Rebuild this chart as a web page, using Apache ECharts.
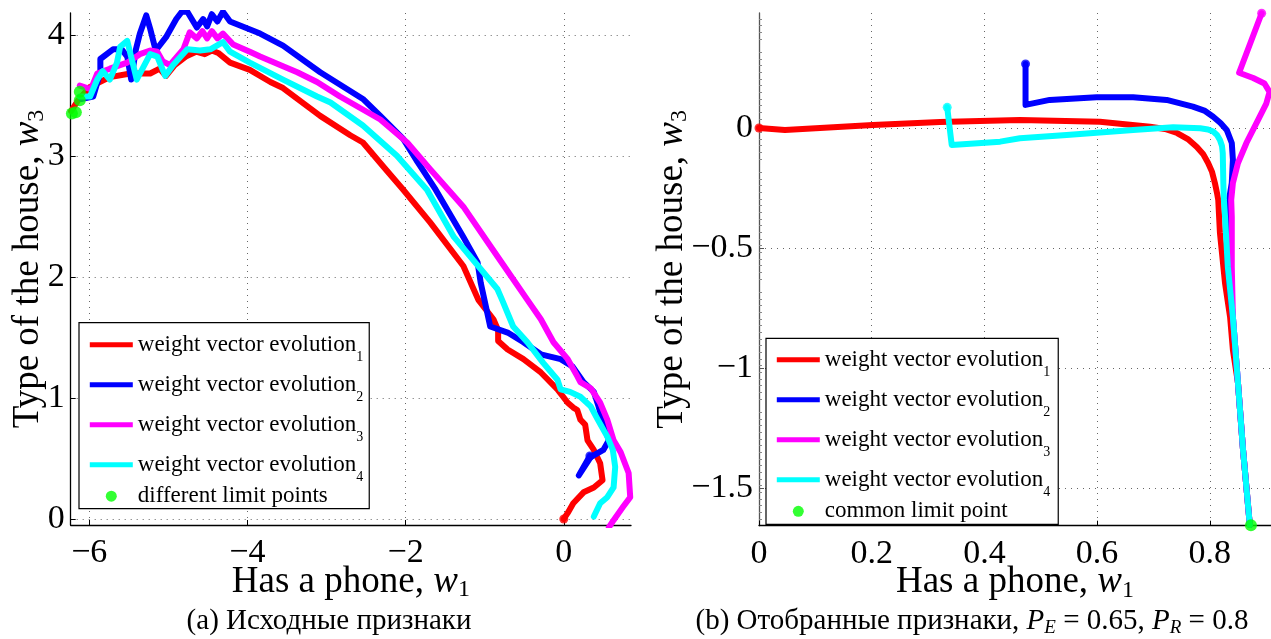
<!DOCTYPE html>
<html>
<head>
<meta charset="utf-8">
<script src="https://cdn.jsdelivr.net/npm/echarts@6/dist/echarts.min.js"></script>
<style>html,body{margin:0;padding:0;background:#fff}#chart{width:1271px;height:639px}</style>
</head>
<body>
<div id="chart"></div>
<script>
// ---------- DATA (left panel: original features) ----------
const leftXTicks = [-6, -4, -2, 0];
const leftYTicks = [0, 1, 2, 3, 4];
const leftRed = [[-6.23,3.37],[-6.14,3.46],[-5.99,3.57],[-5.74,3.65],[-5.48,3.68],[-5.23,3.68],[-5.11,3.72],[-5.03,3.66],[-4.92,3.75],[-4.78,3.82],[-4.65,3.86],[-4.54,3.84],[-4.45,3.87],[-4.37,3.85],[-4.22,3.77],[-3.97,3.71],[-3.71,3.61],[-3.55,3.56],[-3.08,3.33],[-2.70,3.17],[-2.54,3.11],[-2.28,2.91],[-2.03,2.72],[-1.69,2.45],[-1.27,2.09],[-1.08,1.81],[-0.89,1.65],[-0.83,1.56],[-0.83,1.47],[-0.71,1.40],[-0.51,1.32],[-0.29,1.21],[-0.08,1.07],[0.05,0.96],[0.12,0.92],[0.17,0.90],[0.21,0.82],[0.27,0.78],[0.30,0.65],[0.38,0.57],[0.46,0.46],[0.49,0.32],[0.38,0.26],[0.25,0.22],[0.12,0.13],[0.05,0.05],[0,0]];
const leftBlue = [[-6.10,3.47],[-5.95,3.49],[-5.86,3.69],[-5.86,3.80],[-5.70,3.88],[-5.59,3.88],[-5.52,3.82],[-5.47,3.63],[-5.41,3.88],[-5.36,4.01],[-5.28,4.16],[-5.23,4.05],[-5.16,3.87],[-5.03,3.98],[-4.90,4.13],[-4.83,4.19],[-4.76,4.19],[-4.64,4.06],[-4.56,4.13],[-4.51,4.07],[-4.45,4.17],[-4.38,4.11],[-4.31,4.19],[-4.22,4.11],[-3.84,4.01],[-3.55,3.91],[-3.08,3.69],[-2.54,3.47],[-2.32,3.33],[-2.03,3.14],[-1.85,2.95],[-1.62,2.72],[-1.27,2.33],[-1.09,2.12],[-1.05,1.95],[-0.97,1.71],[-0.93,1.59],[-0.71,1.54],[-0.51,1.46],[-0.29,1.36],[-0.04,1.32],[0.11,1.26],[0.25,1.13],[0.38,1.05],[0.44,0.93],[0.50,0.79],[0.57,0.65],[0.50,0.57],[0.34,0.51],[0.19,0.36],[0.33,0.52]];
const leftMagenta = [[-6.12,3.58],[-5.98,3.55],[-5.90,3.68],[-5.74,3.72],[-5.52,3.77],[-5.36,3.84],[-5.23,3.87],[-5.14,3.86],[-5.07,3.78],[-4.98,3.75],[-4.81,3.88],[-4.73,4.02],[-4.64,3.97],[-4.57,4.03],[-4.51,3.97],[-4.45,4.03],[-4.38,3.97],[-4.31,4.01],[-4.18,3.92],[-3.97,3.86],[-3.84,3.82],[-3.55,3.74],[-3.37,3.69],[-3.12,3.61],[-2.83,3.49],[-2.32,3.30],[-1.98,3.11],[-1.69,2.89],[-1.27,2.58],[-0.84,2.17],[-0.46,1.81],[-0.29,1.65],[-0.13,1.46],[0.05,1.32],[0.17,1.18],[0.21,1.13],[0.34,1.08],[0.46,0.96],[0.55,0.82],[0.63,0.65],[0.72,0.55],[0.82,0.38],[0.84,0.18],[0.75,0.10],[0.63,-0.01],[0.57,-0.07]];
const leftCyan = [[-6.12,3.49],[-5.99,3.49],[-5.90,3.63],[-5.83,3.70],[-5.74,3.63],[-5.65,3.77],[-5.61,3.90],[-5.52,3.95],[-5.40,3.63],[-5.23,3.84],[-5.14,3.82],[-5.04,3.66],[-4.94,3.75],[-4.76,3.88],[-4.60,3.87],[-4.47,3.88],[-4.31,3.94],[-4.22,3.86],[-3.97,3.77],[-3.55,3.63],[-3.12,3.49],[-2.95,3.44],[-2.54,3.25],[-2.11,3.00],[-1.73,2.72],[-1.39,2.33],[-0.84,1.90],[-0.78,1.81],[-0.64,1.59],[-0.46,1.46],[-0.26,1.29],[-0.08,1.15],[-0.04,1.07],[0.08,1.05],[0.21,1.01],[0.34,0.93],[0.43,0.82],[0.55,0.68],[0.62,0.57],[0.65,0.43],[0.63,0.26],[0.55,0.18],[0.46,0.13],[0.38,0.02]];
const leftLimitPoints = [[-6.22,3.35],[-6.17,3.36],[-6.12,3.46],[-6.12,3.53]];

// ---------- DATA (right panel: selected features) ----------
const rightXTicks = [0, 0.2, 0.4, 0.6, 0.8];
const rightYTicks = [-1.5, -1, -0.5, 0];
const rightRed = [[0,0],[0.046,-0.008],[0.202,0.0125],[0.321,0.025],[0.463,0.033],[0.605,0.026],[0.694,0.005],[0.7205,-0.004],[0.742,-0.021],[0.761,-0.046],[0.777,-0.079],[0.788,-0.108],[0.797,-0.146],[0.804,-0.183],[0.809,-0.229],[0.8128,-0.271],[0.815,-0.30],[0.818,-0.4375],[0.827,-0.646],[0.836,-0.7875],[0.841,-0.925],[0.850,-1.0625],[0.859,-1.342],[0.871,-1.654]];
const rightBlue = [[0.473,0.267],[0.473,0.096],[0.516,0.117],[0.599,0.128],[0.664,0.128],[0.7235,0.117],[0.770,0.089],[0.7915,0.071],[0.806,0.047],[0.819,0.021],[0.830,-0.008],[0.839,-0.0625],[0.841,-0.133],[0.839,-0.229],[0.832,-0.329],[0.832,-0.579],[0.841,-0.7875],[0.850,-1.0625],[0.859,-1.342],[0.871,-1.654]];
const rightMagenta = [[0.892,0.478],[0.852,0.230],[0.877,0.208],[0.897,0.185],[0.906,0.15],[0.900,0.10],[0.883,0.021],[0.865,-0.0625],[0.850,-0.146],[0.841,-0.229],[0.838,-0.30],[0.839,-0.371],[0.839,-0.579],[0.841,-0.7875],[0.850,-1.0625],[0.859,-1.342],[0.871,-1.654]];
const rightCyan = [[0.334,0.086],[0.342,-0.071],[0.428,-0.057],[0.463,-0.043],[0.546,-0.029],[0.664,-0.008],[0.735,0.003],[0.783,-0.001],[0.7968,-0.006],[0.806,-0.015],[0.8128,-0.029],[0.818,-0.05],[0.8216,-0.075],[0.823,-0.105],[0.824,-0.229],[0.825,-0.30],[0.827,-0.369],[0.832,-0.579],[0.841,-0.7875],[0.850,-1.0625],[0.859,-1.342],[0.871,-1.654]];
const rightLimitPoints = [[0.873,-1.655]];

const legendLabels = ['weight vector evolution', 'different limit points', 'common limit point'];
const xName = 'Has a phone, ';
const yName = 'Type of the house, ';
const captionA = '(a) Исходные признаки';
const captionB = '(b) Отобранные признаки, ';

// ---------- STYLE ----------
const FONT = 'Liberation Serif';
const COLORS = ['#ff0000', '#0000ff', '#ff00ff', '#00ffff'];
const GREEN = '#00ff00';
const LW = 6;
const fmt = v => String(v).replace('-', '\u2212');

const nameRich = {
  n: { fontFamily: FONT, fontSize: 37, color: '#000', lineHeight: 44 },
  i: { fontFamily: FONT, fontSize: 37, fontStyle: 'italic', color: '#000', lineHeight: 44 },
  s: { fontFamily: FONT, fontSize: 24, color: '#000', lineHeight: 24, padding: [16, 0, 0, 0] }
};
const nameStyle = { fontFamily: FONT, fontSize: 37, color: '#000', lineHeight: 44, rich: nameRich };

function xAxis(grid, min, max, ticks, axisColor) {
  return {
    gridIndex: grid, type: 'value', min: min, max: max,
    axisLine: { show: true, onZero: false, lineStyle: { color: axisColor, width: 1.3 } },
    axisTick: { show: true, inside: true, length: 5, customValues: ticks, lineStyle: { color: axisColor } },
    axisLabel: { customValues: ticks, formatter: fmt, fontFamily: FONT, fontSize: 34, color: '#000', margin: 11 },
    splitLine: { show: true, lineStyle: { type: [1, 5], color: '#666', width: 1 } },
    name: '{n|' + xName + '}{i|w}{s|1}', nameLocation: 'middle', nameGap: 35, nameMoveOverlap: false,
    nameTextStyle: nameStyle
  };
}
function yAxis(grid, min, max, ticks, axisColor, gap, minor) {
  return {
    gridIndex: grid, type: 'value', min: min, max: max, interval: 0.5,
    axisLine: { show: true, onZero: false, lineStyle: { color: axisColor, width: 1.3 } },
    axisTick: { show: true, inside: true, length: 5, customValues: ticks, lineStyle: { color: axisColor } },
    minorTick: { show: minor, splitNumber: 18, length: 3, lineStyle: { color: '#888' } },
    axisLabel: { customValues: ticks, formatter: fmt, fontFamily: FONT, fontSize: 34, color: '#000', margin: 6 },
    splitLine: { show: true, lineStyle: { type: [1, 5], color: '#666', width: 1 } },
    name: '{n|' + yName + '}{i|w}{s|3}', nameLocation: 'middle', nameGap: gap, nameMoveOverlap: false,
    nameTextStyle: nameStyle
  };
}

function lineSeries(name, data, color, axisIdx) {
  return {
    name: name, type: 'line', data: data, xAxisIndex: axisIdx, yAxisIndex: axisIdx,
    symbol: 'none', smooth: false, clip: true, animation: false,
    lineStyle: { color: color, width: LW, cap: 'round', join: 'round' },
    itemStyle: { color: color }
  };
}
function dotSeries(name, data, color, axisIdx, size) {
  return {
    name: name, type: 'scatter', data: data, xAxisIndex: axisIdx, yAxisIndex: axisIdx,
    symbol: 'circle', symbolSize: size, clip: false, animation: false, z: 5,
    itemStyle: { color: color }
  };
}

const leftSets = [leftRed, leftBlue, leftMagenta, leftCyan];
const rightSets = [rightRed, rightBlue, rightMagenta, rightCyan];
const series = [];
leftSets.forEach((d, k) => series.push(lineSeries('L' + (k + 1), d, COLORS[k], 0)));
rightSets.forEach((d, k) => series.push(lineSeries('R' + (k + 1), d, COLORS[k], 1)));
// start points
series.push(dotSeries('sL1', [leftRed[leftRed.length - 1]], COLORS[0], 0, 9));
series.push(dotSeries('sL2', [leftBlue[leftBlue.length - 1]], COLORS[1], 0, 9));
rightSets.forEach((d, k) => series.push(dotSeries('sR' + (k + 1), [d[0]], COLORS[k], 1, 9)));
series.push(dotSeries('LG', leftLimitPoints, GREEN, 0, 12));
series.push(dotSeries('RG', rightLimitPoints, GREEN, 1, 12));

function legendFormatter(name) {
  if (name === 'LG') return '{g|' + legendLabels[1] + '}';
  if (name === 'RG') return '{g|' + legendLabels[2] + '}';
  return '{a|' + legendLabels[0] + '}{s|' + name[1] + '}';
}
function legend(prefix, left, top, lh, gh, pad) {
  const items = [1, 2, 3, 4].map(k => ({ name: prefix + k, itemStyle: { opacity: 0 }, lineStyle: { width: 5, cap: 'butt' } }));
  items.push({ name: prefix + 'G' });
  return {
    orient: 'vertical', left: left, top: top, itemGap: 0, itemWidth: 43, itemHeight: 11,
    selectedMode: false, data: items, formatter: legendFormatter,
    backgroundColor: '#fff', borderColor: '#000', borderWidth: 1.2, borderRadius: 0,
    padding: pad,
    lineStyle: { width: 5 },
    textStyle: {
      fontFamily: FONT, color: '#000', fontSize: 23,
      rich: {
        a: { fontFamily: FONT, fontSize: 23, color: '#000', lineHeight: lh },
        s: { fontFamily: FONT, fontSize: 14, color: '#000', lineHeight: 11, padding: [26, 0, 0, 0] },
        g: { fontFamily: FONT, fontSize: 23, color: '#000', lineHeight: gh }
      }
    }
  };
}

const capRich = {
  n: { fontFamily: FONT, fontSize: 29, fill: '#000' },
  i: { fontFamily: FONT, fontSize: 29, fontStyle: 'italic', fill: '#000' },
  s: { fontFamily: FONT, fontSize: 19, fontStyle: 'italic', fill: '#000', lineHeight: 19, padding: [13, 0, 0, 0] }
};

const option = {
  backgroundColor: '#fff',
  animation: false,
  grid: [
    { left: 70.7, top: 13, width: 560.3, height: 512, outerBoundsMode: 'none', containLabel: false },
    { left: 759, top: 13, width: 512, height: 512.7, outerBoundsMode: 'none', containLabel: false }
  ],
  xAxis: [
    xAxis(0, -6.235, 0.85, leftXTicks, '#000'),
    xAxis(1, 0, 0.9086, rightXTicks, '#000')
  ],
  yAxis: [
    yAxis(0, -0.05, 4.18, leftYTicks, '#000', 20, false),
    yAxis(1, -1.657, 0.479, rightYTicks, '#555', 65, true)
  ],
  legend: [
    legend('L', 79, 322.7, 40, 31, [2, 6, 1, 8.3]),
    legend('R', 766, 338.3, 37, 29, [1.5, 8, 1.5, 8.3])
  ],
  graphic: [
    { type: 'text', x: 329, y: 621, style: { text: '{n|' + captionA + '}', fontFamily: FONT, fontSize: 29, fill: '#000', align: 'center', verticalAlign: 'middle', rich: capRich } },
    { type: 'text', x: 972, y: 621, style: { text: '{n|' + captionB + '}{i|P}{s|E}{n| = 0.65, }{i|P}{s|R}{n| = 0.8}', fontFamily: FONT, fontSize: 29, fill: '#000', align: 'center', verticalAlign: 'middle', rich: capRich } }
  ],
  series: series
};

const chart = echarts.init(document.getElementById('chart'), null, { renderer: 'canvas' });
chart.setOption(option);
</script>
</body>
</html>
